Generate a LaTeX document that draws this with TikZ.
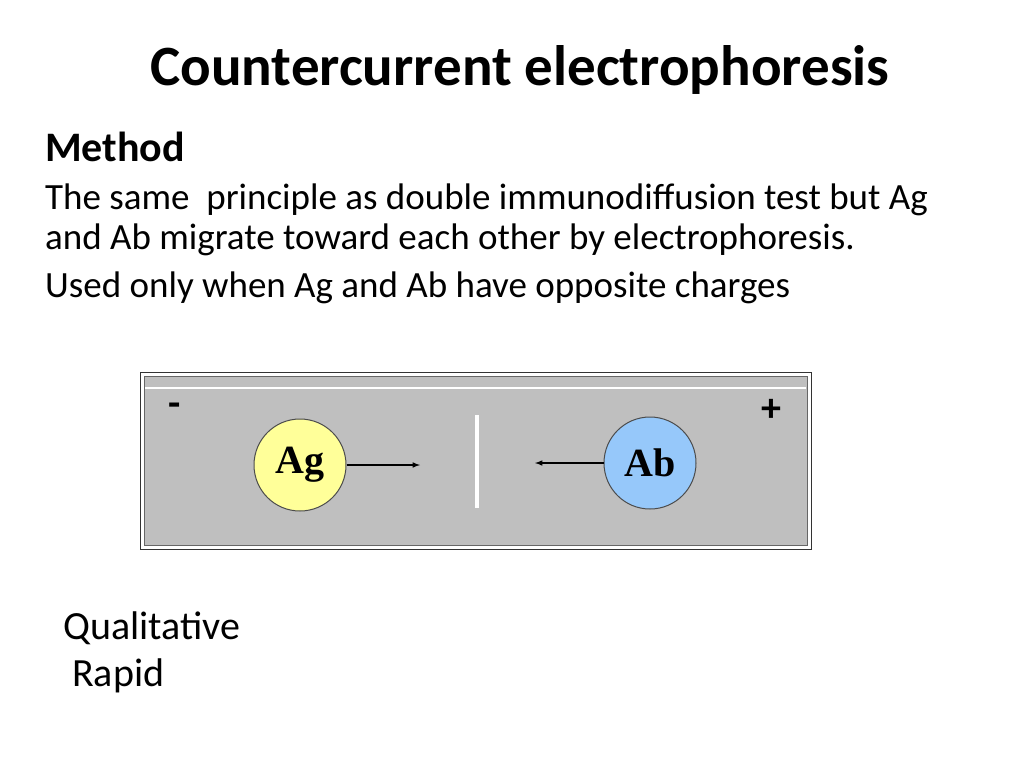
\documentclass[tikz,border=0pt]{standalone}
\usepackage{fontspec}
\setmainfont{Carlito}
\newfontfamily\serifb{Liberation Serif}
\begin{document}
\begin{tikzpicture}[x=1pt,y=-1pt,
  txt/.style={anchor=west,inner sep=0pt,font=\fontsize{37}{40}\selectfont},
  blob/.style={circle,draw=black!70,line width=1pt,minimum size=92pt,inner sep=0pt,font=\serifb\bfseries\fontsize{40}{40}\selectfont},
  arr/.style={-latex,line width=1.5pt}]
\useasboundingbox (0,0) rectangle (1024,768);
\node[inner sep=0pt,font=\bfseries\fontsize{57}{60}\selectfont] (title) at (520,70) {Countercurrent electrophoresis};
\node[txt,font=\bfseries\fontsize{42}{44}\selectfont] (m) at (45,147) {Method};
\node[txt] (l1) at (45,200) {The same\ \ principle as double immunodiffusion test but Ag};
\node[txt] (l2) at (45,240) {and Ab migrate toward each other by electrophoresis.};
\node[txt] (l3) at (45,288) {Used only when Ag and Ab have opposite charges};
\draw[black!80,line width=1pt,fill=white] (140,372) rectangle (811,549);
\draw[black!60,line width=1pt,fill=black!25] (144,376) rectangle (807,545);
\draw[white,line width=1.5pt] (145,388) -- (806,388);
\node[font=\bfseries\fontsize{40}{40}\selectfont] (minus) at (175,410) {-};
\node[font=\bfseries\fontsize{40}{40}\selectfont] (plus) at (771,410) {+};
\node[blob,fill={rgb,255:red,255;green,255;blue,153}] (ag) at (300,465) {Ag};
\node[blob,fill={rgb,255:red,150;green,200;blue,250}] (ab) at (650,463) {Ab};
\coordinate (agt) at (420,465);
\coordinate (abt) at (535,463);
\draw[arr] (ag) -- (agt);
\draw[arr] (ab) -- (abt);
\draw[white,line width=4pt] (477,415) -- (477,508);
\node[txt,font=\fontsize{40}{44}\selectfont] (q) at (63,628) {Qualitative};
\node[txt,font=\fontsize{40}{44}\selectfont] (r) at (72,676) {Rapid};
\end{tikzpicture}
\end{document}
